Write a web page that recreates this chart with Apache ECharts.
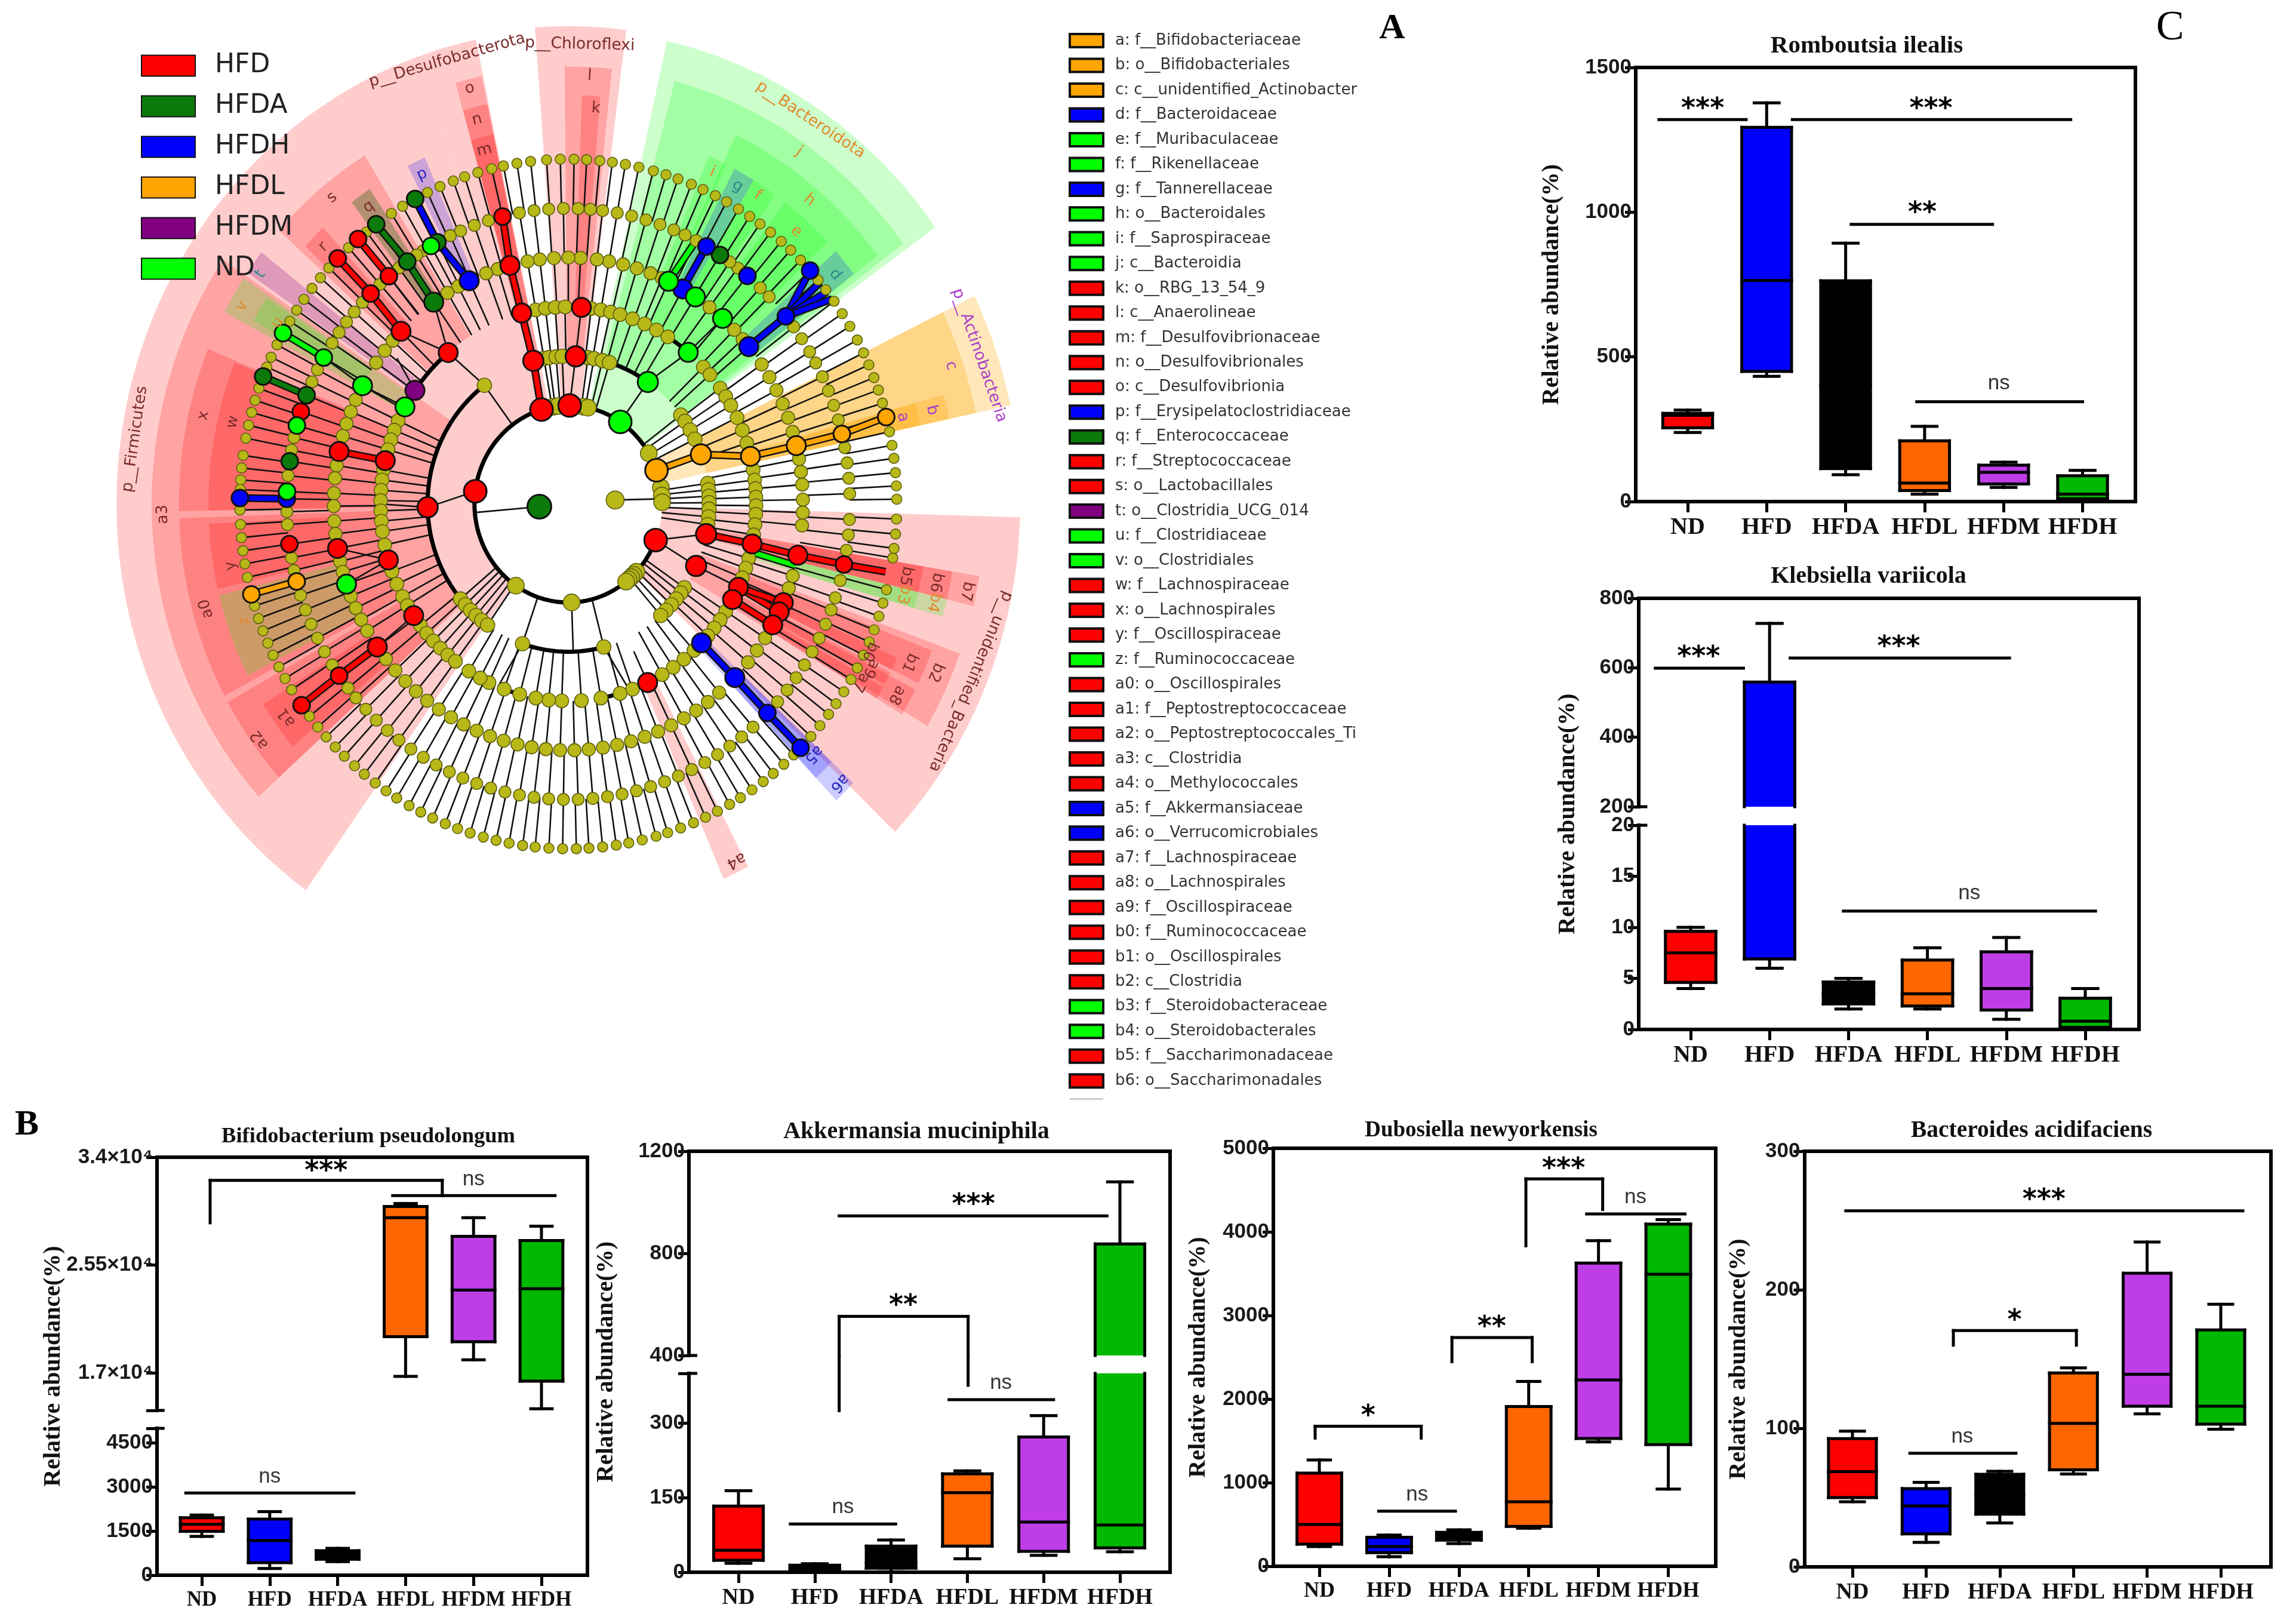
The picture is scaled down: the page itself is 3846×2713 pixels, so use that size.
<!DOCTYPE html>
<html><head><meta charset="utf-8">
<style>html,body{margin:0;padding:0;background:#fff}#c{width:3846px;height:2713px}</style>
<script src="https://cdn.jsdelivr.net/npm/echarts@6/dist/echarts.min.js"></script>
</head><body><div id="c"></div>
<script>
// ---------- DATA: groups and box statistics [low, q1, median, q3, high] ----------
const groups = ['ND','HFD','HFDA','HFDL','HFDM','HFDH'];
const romboutsiaStats = [[239,255,298,305,316],[433,450,764,1293,1378],[93,114,400,763,893],[26,38,64,210,260],[49,61,101,126,136],[5,10,26,89,108]];
const klebsiellaStats = [[4,4.6,7.5,9.6,10],[6,6.9,100,559,728],[2,2.5,3.5,4.65,5],[2,2.3,3.5,6.8,8],[1,1.9,4,7.6,9],[0,0.2,0.8,3.05,4]];
const bifidoStats = [[1319,1492,1735,1955,2048],[231,428,1180,1909,2164],[463,544,680,833,914],[16733,19865,29235,30118,30360],[18045,19464,23533,27762,29235],[14190,16358,23640,27441,28566]];
const akkermansiaStats = [[18,24,44,133,164],[1,5,10,14,17],[1,8,18,52.5,65],[27,52.5,160,198,204],[34,42,101,272,315],[41,49,95,837,1080]];
const dubosiellaStats = [[236,264,500,1114,1272],[114,163,236,346,374],[272,313,366,406,435],[455,476,772,1911,2211],[1488,1528,2228,3626,3894],[923,1455,3492,4093,4146]];
const bacteroidesStats = [[47,50,68.7,92.6,98],[17.7,23.8,44,56.5,61],[31.7,38,52,66.8,69],[67,70,103.6,140,143.6],[110.5,116,139,212,234.5],[99.4,103,116,171,189.5]];
// significance segments [x1,y1,x2,y2], labels [x,y,text]
const romboutsiaBars = [[-0.364,1320,0.74,1320],[1.325,1320,4.85,1320],[2.07,958,3.86,958],[2.9,345,5,345]];
const romboutsiaMarks = [[0.19,1371,'***'],[3.08,1371,'***'],[2.97,1014,'**'],[3.94,408,'ns']];
const klebsiellaUpperBars = [[-0.448,599,0.669,599],[1.26,628,4.04,628]];
const klebsiellaUpperMarks = [[0.1,644,'***'],[2.636,673,'***']];
const klebsiellaLowerBars = [[1.935,11.6,5.13,11.6]];
const klebsiellaLowerMarks = [[3.53,13.3,'ns']];
const bifidoUpperBars = [[0.123,28833,0.123,32180],[0.123,32180,3.54,32180],[3.54,32180,3.54,30975],[2.81,30975,5.2,30975]];
const bifidoUpperMarks = [[1.83,33250,'***'],[4,32260,'ns']];
const bifidoLowerBars = [[-0.235,2800,2.24,2800]];
const bifidoLowerMarks = [[1,3344,'ns']];
const akkermansiaUpperBars = [[1.32,947,4.83,947],[1.32,400,1.32,553],[1.32,553,3.01,553],[3.01,553,3.01,400]];
const akkermansiaUpperMarks = [[3.08,1007,'***'],[2.16,613,'**']];
const akkermansiaLowerBars = [[1.32,436,1.32,325],[3.01,436,3.01,376],[2.76,347,4.13,347],[0.68,97,2.06,97]];
const akkermansiaLowerMarks = [[3.44,380,'ns'],[1.37,130,'ns']];
const dubosiellaBars = [[-0.06,1533,-0.06,1675],[-0.06,1675,1.46,1675],[1.46,1675,1.46,1533],[0.85,659,1.95,659],[1.9,2447,1.9,2736],[1.9,2736,3.05,2736],[3.05,2736,3.05,2447],[2.96,3833,2.96,4634],[2.96,4634,4.06,4634],[4.06,4634,4.06,4268],[3.83,4215,5.24,4215]];
const dubosiellaMarks = [[0.7,1850,'*'],[1.4,854,'ns'],[2.47,2915,'**'],[3.5,4805,'***'],[4.53,4411,'ns']];
const bacteroidesBars = [[-0.09,257,5.3,257],[1.37,160,1.37,170.6],[1.37,170.6,3.04,170.6],[3.04,170.6,3.04,160],[0.78,82,2.22,82]];
const bacteroidesMarks = [[2.6,268,'***'],[2.2,181,'*'],[1.49,93.8,'ns']];
const romboutsiaTicks = [0,500,1000,1500];
const klebsiellaUpperTicks = [200,400,600,800];
const klebsiellaLowerTicks = [0,5,10,15,20];
const bifidoUpperTicks = [14055,17000,25500,34000];
const bifidoUpperLabels = ['','1.7×10⁴','2.55×10⁴','3.4×10⁴'];
const bifidoLowerTicks = [0,1500,3000,4500,5000];
const bifidoLowerLabels = ['0','1500','3000','4500',''];
const akkermansiaUpperTicks = [400,800,1200];
const akkermansiaLowerTicks = [0,150,300,400];
const akkermansiaLowerLabels = ['0','150','300',''];
const dubosiellaTicks = [0,1000,2000,3000,4000,5000];
const bacteroidesTicks = [0,100,200,300];

// ---------- DATA: cladogram; angle in degrees, ring number ----------
const ring7 = [0.8,3,5.2,7.6,9.8,12.1,17,19.3,21.5,23.8,26,28.4,31,33.5,36,38.4,40.5,45,47.4,49.6,52,54.3,56.5,58.8,61.2,63.4,65.8,68,70.5,72.7,75,77.6,80,82.3,84.5,86.8,89,91.4,93.8,96.6,99,101.4,103.5,106,108.4,110.5,113,115.4,120.3,122.6,127.9,132,136.8,139,141.3,143.6,145.8,148,152.5,154.8,156.6,160.4,162.5,164.6,166.8,169,171.9,174,176,177.6,181,183.4,185.6,187.8,190,192.3,197.2,199.4,201.6,203.8,206,208.2,210.4,212.6,218,220.3,222.5,224.8,227,229.4,231.6,234,236.3,238.5,241,243.3,245.6,248,250.3,252.6,255,257.3,259.6,262,264.2,266.6,269,271.4,273.6,276,278.4,280.6,283,285.5,287.6,290,292.4,294.7,297,299.4,301.6,304,306.4,308.6,311,313.3,317.6,320,322.4,324.6,327,329.4,331.6,334,336.4,338.6,341,343.3,345.6,351,352.6,355,357.5];
const ring6 = [2,5,8,11,16.5,19.5,22.5,25.5,28.5,31,34,36.8,44.5,47,53,55,63,65.5,68,71,74,77,80,83,85.5,88,91,94,97,100,106.5,109.5,112.5,114.8,121,122.6,127,132,137,139.5,142,144.5,147,153,155.6,167,169.5,174.5,181.5,184,190.5,193,198,201,204,207,210,213,218.5,221,224,227,230,233,236,239,242,245,248,251,254,257,260,263,266,269,272,275,278,281,284,287,290,293,296,299,302,305,308,311,318,321,324,327,330,333,336,339,341.5,345,351,354,357];
const ring5 = [1,4.5,7.5,10.5,17,20.5,24,27.5,31,34.5,42,45,53,66.5,69.5,73,76.5,80,83,87,90,93.5,97,100,107.5,110.5,118,121,138.5,141.5,145,155,158,161,164,171,174,177.5,180.5,184,187,193.5,196,202,205,208,211,219,222.5,226,229.5,233,236.5,240,243.5,247,250.5,254,257.5,261,264.5,268,271.5,275,278.5,282,285.5,289,292.5,296,299.5,303,306.5,310,320,323.5,327,330.5,334,337,340,343,355,358];
const ring4 = [100,97,94,91,83,80,77,74,70,66,62,58,44,41,36,33,30,26,22,18,10,7,4.5,2,-0.5,-3,-6,-9,-16,-19,-22,-33,-36,-39,-42,-48,-52,-56,-60,-70,-74,-80,-86,-92,-96,-100,-105,-110,-115,-118,-122,155,158,161,164,170,173,176,179,182,185,188,192,200,204,208,211,218,221,224,227,230,233];
const ring3 = [100,98,95,92.5,82,79.5,76,73,37,34,30,26,8,5.5,3,0.5,-2,-5,-8,-34.5,-37,-40,-43,-46,-49,220,223,226,229,232,235,251,-75.4,126.6];
const ring2 = [99.5,96.4,80.5,78,31,9.6,4.9,1,-43.5,-46,-48,-50,-52,-88,236];
const ring1 = [4.6];
const ringOrder = [ring1,ring2,ring3,ring4,ring5,ring6,ring7];
// coloured nodes [angle, ring]
const hfdNodes = [[106.6,2],[89.2,2],[-21.5,2],[172.6,2],[104.4,3],[87,3],[-24.8,3],[181.3,3],[-11.8,3],[104.4,4],[86,4],[-25,4],[-29,4],[129.8,4],[196.5,4],[167.3,4],[214.5,4],[-65,4],[-11.7,4],[135.5,5],[167.7,5],[190.4,5],[215.5,5],[104.4,5],[-12,5],[-23.6,5],[-26,5],[-29.4,5],[103.5,6],[-11.8,6],[215.5,6],[187.8,6],[161.8,6],[134.6,6],[129.6,6],[215.7,7],[134.6,7],[129.8,7]];
const hfdaNodes = [[185,0.62],[125,5],[171.7,6],[158.4,6],[124.9,6],[57.4,6],[117.7,6],[158.3,7],[125.8,7],[117.8,7]];
const hfdhNodes = [[39.7,5],[115,5],[60.8,5],[39.4,6],[60.6,6],[50.5,6],[179,6],[-44.8,4],[-44.8,5],[-45,6],[-45,7],[42.6,7],[179,7]];
const hfdlNodes = [[20,2],[19.6,3],[14,4],[13.7,5],[13.7,6],[14.6,7],[195.2,6],[195.2,7]];
const hfdmNodes = [[144.8,4]];
const ndNodes = [[56.4,2],[55.6,3],[50.3,4],[150.5,4],[48.9,5],[57.2,5],[64.7,5],[199,5],[151.3,5],[150.3,6],[177.6,6],[164.6,6],[119.2,6],[150.3,7]];
// coloured thick links [a1,ring1,a2,ring2]
const hfdLinks = [[106.6,2,104.4,3],[104.4,3,104.4,4],[104.4,4,104.4,5],[104.4,5,103.5,6],[167.3,4,167.7,5],[135.5,5,134.6,6],[134.6,6,134.6,7],[129.6,6,129.8,7],[215.5,5,215.5,6],[215.5,6,215.7,7],[-11.8,3,-11.7,4],[-11.7,4,-12,5],[-12,5,-11.8,6],[-11.8,6,-11.5,6.9],[-25,4,-26,5],[-29,4,-29.4,5],[-25,4,-23.6,5]];
const hfdaLinks = [[125,5,124.9,6],[124.9,6,125.8,7],[158.4,6,158.3,7],[117.7,6,117.8,7]];
const hfdhLinks = [[-44.8,4,-44.8,5],[-44.8,5,-45,6],[-45,6,-45,7],[39.7,5,39.4,6],[39.4,6,42.6,7],[39.4,6,40,7],[39.4,6,38,7],[39.4,6,36.5,7],[60.8,5,60.6,6],[115,5,117.7,6],[117.7,6,117.8,7],[179,6,179,7]];
const hfdlLinks = [[20,2,19.6,3],[19.6,3,14,4],[14,4,13.7,5],[13.7,5,13.7,6],[13.7,6,14.6,7],[195.2,6,195.2,7]];
const ndLinks = [[150.3,6,150.3,7],[64.7,5,63,6],[-14,4,-14.5,5]];
// thin parent links [a1,ring1,a2,ring2]
const thinLinks = [[185,0.62,185,2],[4.6,1,3,2],[172.6,2,181.3,3],[181.3,3,180,4],[56.4,2,55.6,3],[55.6,3,50.3,4],[50.3,4,48.9,5],[-21.5,2,-24.8,3],[-24.8,3,-25,4],[-21.5,2,-11.8,3],[126.6,3,129.8,4],[129.8,4,135.5,5],[129.8,4,125,5],[-88,2,-88,3],[251,3,248,4],[-75.4,3,-71,4],[89.2,2,87,3],[87,3,86,4],[129.8,5,129.6,6],[167.3,4,172,3.9],[150.5,4,151.3,5],[151.3,5,150.3,6],[144.8,4,141,4.7],[196.5,4,190.4,5],[196.5,4,199,5],[214.5,4,215.5,5],[-65,4,-65,3.3]];
// thick black ring arcs [ring, fromAngle, toAngle]
const blackArcs = [[2,30,338.5],[3,126.6,233],[3,251,284.6],[3,57,78],[4,50,72],[4,130,215],[5,190,205],[4,278,284],[4,250,257]];
// shaded clades [a1,a2,r0,r1,key]
const cladeWedges = [[109.7,234.5,2,9.63,'r'],[101.8,109.7,2,9.63,'r'],[82.7,94.2,2,9.7,'r'],[35.7,77.4,2,9.63,'g'],[12,26,2,9.63,'o'],[-43.7,-1.6,2,9.63,'r'],
[146,222,3,8.88,'r'],[121.5,138,4,8.3,'r'],[133,137,5,7.67,'r'],[123.5,127,5,7.67,'d'],[113.5,116.5,5,7.67,'b'],
[102,105.7,3,8.88,'r'],[102,105.7,4,8.3,'r'],[102,105.7,5,7.67,'r'],[84,90.5,3,8.88,'r'],[85.3,88,4,8.3,'r'],
[36.5,75.2,3,8.88,'g'],[37.4,64.5,4,8.3,'g'],[64,67,5,7.67,'g'],[59,62.5,5,7.67,'b'],[55,59,5,7.67,'g'],[44,53,5,7.67,'g'],[37.5,42,5,7.67,'b'],
[12,26,3,8.88,'o'],[12,15.5,4,8.3,'o'],[12,15.5,5,7.67,'o'],
[-30.5,-20,3,8.88,'r'],[-26,-21,4,8.3,'r'],[-31,-27,4,8.3,'r'],[-26,-24,5,7.67,'r'],[-28.5,-26.5,5,7.67,'r'],[-31,-29,5,7.67,'r'],
[-13.5,-9.5,3,8.88,'r'],[-13.5,-9.5,4,8.3,'r'],[-13.5,-9.5,5,7.67,'r'],[-16,-13.5,4,8.3,'g'],[-16,-13.5,5,7.67,'g'],
[-46.5,-43,4,8.3,'b'],[-46.5,-43,5,7.67,'b'],[-66.5,-62.5,4,8.3,'r'],
[157.7,181,4,8.3,'r'],[158,181,5,7.67,'r'],[182,208,4,8.3,'r'],[183,193,5,7.67,'r'],[194,207,5,7.67,'g'],[209,222,4,8.3,'r'],[212,220,5,7.67,'r'],[146.5,152,4,8.3,'g'],[147,151,5,7.67,'g'],[142,145.5,4,8.3,'p']];
// clade letters and phylum names
const cladeLabelText = ['x','w','a3','p__Firmicutes','y','a0','z','a1','a2','v','u','t','s','r','q','p','o','n','m','l','k','i','g','f','e','d','j','h','a','b','c','b2','b1','a8','b0','a9','a7','b5','b6','b7','b3','b4','a5','a6','a4','p__Desulfobacterota','p__Chloroflexi','p__Bacteroidota','p__Actinobacteria','p__unidentified_Bacteria'];
const cladeLabelAngle = [167,166.9,181.4,171.9,189.9,195.4,199,215.8,216,150,149.3,144.6,129,135,125.2,115,104,104,104,87,85.8,65.5,60.8,57.2,48.7,39.3,55.5,50.2,13.9,13.8,19,-23.6,-23.9,-29,-25,-27.4,-30.2,-11.5,-11.5,-11.8,-14.4,-14.4,-44.2,-44.4,-63.7,106,88.5,56.5,19,-22.8];
const cladeLabelRing = [7.98,7.34,8.64,9.33,7.3,8,7.3,7.4,8.13,8.03,7.2,8.05,8,7.38,7.38,7.38,8.69,8.04,7.4,8.7,8.05,7.4,7.39,7.45,7.36,7.35,8.68,8.03,7.34,7.98,8.62,8.54,7.95,8,7.09,7.26,7.2,7.34,8,8.67,7.38,8.04,7.29,8.09,8.07,9.37,9.33,9.35,9.26,9.3];
const cladeLabelTone = ['k','k','k','k','k','k','o','k','k','o','o','t','k','k','k','b','k','k','k','k','k','o','t','o','o','t','o','o','m','m','m','k','k','k','k','k','k','k','k','k','o','o','b','b','k','k','k','o','m','k'];
// clade key list
const cladeKeys = ['a: f__Bifidobacteriaceae','b: o__Bifidobacteriales','c: c__unidentified_Actinobacter','d: f__Bacteroidaceae','e: f__Muribaculaceae','f: f__Rikenellaceae','g: f__Tannerellaceae','h: o__Bacteroidales','i: f__Saprospiraceae','j: c__Bacteroidia','k: o__RBG_13_54_9','l: c__Anaerolineae','m: f__Desulfovibrionaceae','n: o__Desulfovibrionales','o: c__Desulfovibrionia','p: f__Erysipelatoclostridiaceae','q: f__Enterococcaceae','r: f__Streptococcaceae','s: o__Lactobacillales','t: o__Clostridia_UCG_014','u: f__Clostridiaceae','v: o__Clostridiales','w: f__Lachnospiraceae','x: o__Lachnospirales','y: f__Oscillospiraceae','z: f__Ruminococcaceae','a0: o__Oscillospirales','a1: f__Peptostreptococcaceae','a2: o__Peptostreptococcales_Ti','a3: c__Clostridia','a4: o__Methylococcales','a5: f__Akkermansiaceae','a6: o__Verrucomicrobiales','a7: f__Lachnospiraceae','a8: o__Lachnospirales','a9: f__Oscillospiraceae','b0: f__Ruminococcaceae','b1: o__Oscillospirales','b2: c__Clostridia','b3: f__Steroidobacteraceae','b4: o__Steroidobacterales','b5: f__Saccharimonadaceae','b6: o__Saccharimonadales'];
const cladeKeyGroup = ['HFDL','HFDL','HFDL','HFDH','ND','ND','HFDH','ND','ND','ND','HFD','HFD','HFD','HFD','HFD','HFDH','HFDA','HFD','HFD','HFDM','ND','ND','HFD','HFD','HFD','ND','HFD','HFD','HFD','HFD','HFD','HFDH','HFDH','HFD','HFD','HFD','HFD','HFD','HFD','ND','ND','HFD','HFD'];

// ---------- STYLE + LAYOUT ----------
const SERIF='Liberation Serif', SANS='Liberation Sans', DEJA='DejaVu Sans';
const boxColors = {ND:'#ff0000',HFD:'#0000ff',HFDA:'#000000',HFDL:'#ff6600',HFDM:'#bf3de6',HFDH:'#00b800'};
const groupColors = {HFD:'#ff0000',HFDA:'#0b7a0b',HFDH:'#0000ff',HFDL:'#ffa500',HFDM:'#800080',ND:'#00ff00'};
const wedgeFill = {r:'rgba(255,0,0,0.2)',g:'rgba(0,255,0,0.2)',o:'rgba(255,165,0,0.27)',b:'rgba(0,0,255,0.2)',d:'rgba(0,100,0,0.3)',p:'rgba(128,0,128,0.25)'};
const labelTone = {k:'#7a2b2b',o:'#e08a2e',b:'#2a2ac0',m:'#a83cc8',t:'#2a8a8a'};
const sizeBg = {1:30,2:28,3:24,4:23,5:22,6:20,7:17};
const sizeFg = {0.62:40,2:38,3:34,4:32,5:32,6:28,7:28};
const toXY=(a,r)=>[r*Math.cos(a*Math.PI/180),r*Math.sin(a*Math.PI/180)];
const grids=[],xAxes=[],yAxes=[],series=[],titles=[],graphics=[];
const axisLS={color:'#000',width:6,cap:'square'};

// cladogram canvas
grids.push({left:952-10.5*78.6,width:21*78.6,top:844-10.2*82.5,height:20.4*82.5});
xAxes.push({gridIndex:0,type:'value',min:-10.5,max:10.5,show:false});
yAxes.push({gridIndex:0,type:'value',min:-10.2,max:10.2,show:false});
const cladeBase={type:'custom',coordinateSystem:'cartesian2d',xAxisIndex:0,yAxisIndex:0,silent:true,animation:false};
function sectorPoints(api,a1,a2,r0,r1){
  const pts=[],n=Math.max(2,Math.ceil(Math.abs(a2-a1)/2));
  for(let i=0;i<=n;i++)pts.push(api.coord(toXY(a1+(a2-a1)*i/n,r1)));
  for(let i=n;i>=0;i--)pts.push(api.coord(toXY(a1+(a2-a1)*i/n,r0)));
  return pts;
}
series.push({...cladeBase,z:1,name:'clades',data:cladeWedges.map(w=>w.slice(0,4)),renderItem:(p,api)=>{
  const w=cladeWedges[p.dataIndex];
  return {type:'polygon',shape:{points:sectorPoints(api,w[0],w[1],w[2],w[3])},style:{fill:wedgeFill[w[4]]}};
}});
const radialLines=[];
ringOrder.forEach((ring,i)=>{const lvl=i+1;if(lvl>=3)ring.forEach(a=>radialLines.push([a,lvl-1,a,lvl]));});
[hfdNodes,hfdaNodes,hfdhNodes,hfdlNodes,ndNodes].forEach(g=>g.forEach(n=>{if(n[1]>=5)radialLines.push([n[0],n[1]-1,n[0],n[1]]);}));
const allThin=radialLines.concat(thinLinks);
series.push({...cladeBase,z:2,name:'links',data:allThin,renderItem:(p,api)=>{
  const l=allThin[p.dataIndex],a=api.coord(toXY(l[0],l[1])),b=api.coord(toXY(l[2],l[3]));
  return {type:'line',shape:{x1:a[0],y1:a[1],x2:b[0],y2:b[1]},style:{stroke:'#111',lineWidth:2.6}};
}});
series.push({...cladeBase,z:2,name:'arcs',data:blackArcs,renderItem:(p,api)=>{
  const l=blackArcs[p.dataIndex],pts=[],n=Math.ceil((l[2]-l[1])/2);
  for(let i=0;i<=n;i++)pts.push(api.coord(toXY(l[1]+(l[2]-l[1])*i/n,l[0])));
  return {type:'polyline',shape:{points:pts},style:{stroke:'#000',lineWidth:7,fill:null}};
}});
const thickSets=[[hfdLinks,'HFD'],[hfdaLinks,'HFDA'],[hfdhLinks,'HFDH'],[hfdlLinks,'HFDL'],[ndLinks,'ND']];
thickSets.forEach(([links,g])=>{
  series.push({...cladeBase,z:3,name:g+' links',data:links,renderItem:(p,api)=>{
    const l=links[p.dataIndex],a=api.coord(toXY(l[0],l[1])),b=api.coord(toXY(l[2],l[3]));
    return {type:'group',children:[
      {type:'line',shape:{x1:a[0],y1:a[1],x2:b[0],y2:b[1]},style:{stroke:'#111',lineWidth:13}},
      {type:'line',shape:{x1:a[0],y1:a[1],x2:b[0],y2:b[1]},style:{stroke:groupColors[g],lineWidth:8}}]};
  }});
});
const bgNodes=[];ringOrder.forEach((ring,i)=>ring.forEach(a=>bgNodes.push([...toXY(a,i+1),i+1])));
series.push({type:'scatter',name:'not significant',xAxisIndex:0,yAxisIndex:0,z:4,silent:true,animation:false,data:bgNodes,
  symbolSize:v=>sizeBg[v[2]],itemStyle:{color:'#b8b818',borderColor:'#5f5f10',borderWidth:1.6,opacity:1}});
[['HFD',hfdNodes],['HFDA',hfdaNodes],['HFDH',hfdhNodes],['HFDL',hfdlNodes],['HFDM',hfdmNodes],['ND',ndNodes]].forEach(([g,nodes])=>{
  series.push({type:'scatter',name:g,xAxisIndex:0,yAxisIndex:0,z:5,silent:true,animation:false,
    data:nodes.map(n=>[...toXY(n[0],n[1]),n[1]]),symbolSize:v=>sizeFg[v[2]],
    itemStyle:{color:groupColors[g],borderColor:'#111',borderWidth:3,opacity:1}});
});
series.push({...cladeBase,z:6,name:'clade labels',data:cladeLabelAngle.map((a,i)=>[a,cladeLabelRing[i]]),renderItem:(p,api)=>{
  const i=p.dataIndex,a=cladeLabelAngle[i],pt=api.coord(toXY(a,cladeLabelRing[i])),t=cladeLabelText[i];
  return {type:'text',x:pt[0],y:pt[1],rotation:(a-90)*Math.PI/180,
    style:{text:t,fill:labelTone[cladeLabelTone[i]],font:(t.length>2?'26.5px ':'26px ')+DEJA,textAlign:'center',textVerticalAlign:'middle'}};
}});

// box panels
function addPanel(p){
  const xMin=(p.left-p.tick0)/p.unit,xMax=(p.right-p.tick0)/p.unit;
  const gF=grids.length;
  grids.push({left:p.left,top:p.top,width:p.right-p.left,height:p.bottom-p.top});
  xAxes.push({gridIndex:gF,type:'value',position:'top',min:0,max:1,axisLine:{show:true,onZero:false,lineStyle:axisLS},axisTick:{show:false},axisLabel:{show:false},splitLine:{show:false}});
  yAxes.push({gridIndex:gF,type:'value',position:'right',min:0,max:1,axisLine:{show:true,onZero:false,lineStyle:axisLS},axisTick:{show:false},axisLabel:{show:false},splitLine:{show:false}});
  yAxes.push({gridIndex:gF,type:'value',position:'left',min:0,max:1,axisLine:{show:false,onZero:false},axisTick:{show:false},axisLabel:{show:false},splitLine:{show:false},
    name:'Relative abundance(%)',nameLocation:'middle',nameGap:p.left-p.labelX-21,nameTextStyle:{fontFamily:SERIF,fontWeight:'bold',fontSize:40,color:'#111'}});
  titles.push({text:p.title,left:p.titleX,top:p.titleY,textAlign:'center',textVerticalAlign:'middle',textStyle:{fontFamily:SERIF,fontWeight:'bold',fontSize:p.titleSize,color:'#111'}});
  p.parts.forEach(part=>{
    const g=grids.length;
    grids.push({left:p.left,top:part.top,width:p.right-p.left,height:part.bottom-part.top});
    const xi=xAxes.length,yi=yAxes.length;
    xAxes.push({gridIndex:g,type:'value',position:'bottom',min:xMin,max:xMax,show:!!part.showX,
      axisLine:{show:true,onZero:false,lineStyle:axisLS},
      axisTick:{show:true,length:18,lineStyle:{color:'#000',width:5},customValues:[0,1,2,3,4,5]},
      axisLabel:{show:true,margin:24,hideOverlap:false,customValues:[0,1,2,3,4,5],formatter:v=>groups[Math.round(v)],fontFamily:SERIF,fontWeight:'bold',fontSize:p.xSize,color:'#111'},
      splitLine:{show:false}});
    const labels=part.labels||part.ticks.map(String);
    yAxes.push({gridIndex:g,type:'value',position:'left',min:part.min,max:part.max,
      axisLine:{show:true,onZero:false,lineStyle:axisLS},
      axisTick:{show:true,length:18,lineStyle:{color:'#000',width:5},customValues:part.ticks},
      axisLabel:{show:true,margin:7,hideOverlap:false,customValues:part.ticks,formatter:v=>labels[part.ticks.indexOf(v)],fontFamily:SANS,fontWeight:'bold',fontSize:35,color:'#1a1a1a',showMinLabel:true,showMaxLabel:true},
      splitLine:{show:false}});
    const cl=v=>Math.min(Math.max(v,part.min),part.max);
    const stats=p.stats;
    series.push({type:'custom',name:p.title+' boxes',coordinateSystem:'cartesian2d',xAxisIndex:xi,yAxisIndex:yi,silent:true,animation:false,z:3,
      data:stats.map((s,i)=>[i,...s]),
      renderItem:(pp,api)=>{
        const x=api.value(0),[lo,q1,md,q3,hi]=[1,2,3,4,5].map(k=>api.value(k));
        const col=boxColors[groups[x]],hw=api.size([p.boxFrac/2,0])[0],cx=api.coord([x,0])[0];
        const Y=v=>api.coord([x,v])[1],kids=[],ls={stroke:'#000',lineWidth:5,lineCap:'square'};
        const line=(x1,y1,x2,y2,lw)=>kids.push({type:'line',shape:{x1,y1,x2,y2},style:{...ls,lineWidth:lw||5}});
        if(cl(q1)!==cl(hi)&&cl(q3)!==cl(hi)){line(cx,Y(cl(q3)),cx,Y(cl(hi)));}
        if(hi>=part.min&&hi<=part.max)line(cx-hw/2,Y(hi),cx+hw/2,Y(hi));
        if(cl(lo)!==cl(q1)){line(cx,Y(cl(q1)),cx,Y(cl(lo)));}
        if(lo>=part.min&&lo<=part.max)line(cx-hw/2,Y(lo),cx+hw/2,Y(lo));
        if(cl(q1)!==cl(q3)){
          const yT=Y(cl(q3)),yB=Y(cl(q1));
          kids.push({type:'rect',shape:{x:cx-hw,y:yT,width:2*hw,height:yB-yT},style:{fill:col}});
          line(cx-hw,yT,cx-hw,yB);line(cx+hw,yT,cx+hw,yB);
          if(q3<=part.max)line(cx-hw,yT,cx+hw,yT);
          if(q1>=part.min)line(cx-hw,yB,cx+hw,yB);
          if(md>=part.min&&md<=part.max)line(cx-hw,Y(md),cx+hw,Y(md));
        }
        return {type:'group',children:kids};
      }});
    const segs=(part.bars||[]).slice();
    if(part.stub!==undefined)segs.push([xMin,part.stub,xMin+0.09,part.stub]);
    if(segs.length)series.push({type:'custom',name:p.title+' bars',coordinateSystem:'cartesian2d',xAxisIndex:xi,yAxisIndex:yi,silent:true,animation:false,z:4,data:segs,
      renderItem:(pp,api)=>{const s=segs[pp.dataIndex],a=api.coord([s[0],s[1]]),b=api.coord([s[2],s[3]]);
        return {type:'line',shape:{x1:a[0],y1:a[1],x2:b[0],y2:b[1]},style:{stroke:'#000',lineWidth:5,lineCap:'square'}};}});
    const marks=part.marks||[];
    if(marks.length)series.push({type:'custom',name:p.title+' marks',coordinateSystem:'cartesian2d',xAxisIndex:xi,yAxisIndex:yi,silent:true,animation:false,z:4,data:marks.map(m=>[m[0],m[1]]),
      renderItem:(pp,api)=>{const m=marks[pp.dataIndex],a=api.coord([m[0],m[1]]),isNs=m[2]==='ns';
        return {type:'text',x:a[0],y:a[1]+(isNs?0:9),style:{text:m[2],fill:isNs?'#333':'#000',font:isNs?('35px '+SANS):('bold 46px '+DEJA),textAlign:'center',textVerticalAlign:'middle'}};}});
  });
}
addPanel({title:'Romboutsia ilealis',titleSize:41,xSize:40,titleX:3122,titleY:72,labelX:2599,left:2740,right:3577,top:113,bottom:840,tick0:2827,unit:132.3,boxFrac:0.63,stats:romboutsiaStats,
  parts:[{top:113,bottom:840,min:0,max:1500,ticks:romboutsiaTicks,showX:true,bars:romboutsiaBars,marks:romboutsiaMarks}]});
addPanel({title:'Klebsiella variicola',titleSize:40,xSize:40,titleX:3125,titleY:961,labelX:2626,left:2745,right:3583,top:1002,bottom:1724,tick0:2832,unit:132.2,boxFrac:0.64,stats:klebsiellaStats,
  parts:[{top:1002,bottom:1351,min:200,max:800,ticks:klebsiellaUpperTicks,bars:klebsiellaUpperBars,marks:klebsiellaUpperMarks,stub:200},
         {top:1382,bottom:1724,min:0,max:20,ticks:klebsiellaLowerTicks,showX:true,bars:klebsiellaLowerBars,marks:klebsiellaLowerMarks,stub:20}]});
addPanel({title:'Bifidobacterium pseudolongum',titleSize:36.5,xSize:35,titleX:612,titleY:1899,labelX:89,left:263,right:984,top:1938,bottom:2638,tick0:338,unit:113.8,boxFrac:0.63,stats:bifidoStats,
  parts:[{top:1938,bottom:2362,min:14055,max:34000,ticks:bifidoUpperTicks,labels:bifidoUpperLabels,bars:bifidoUpperBars,marks:bifidoUpperMarks,stub:14055},
         {top:2392,bottom:2638,min:0,max:5000,ticks:bifidoLowerTicks,labels:bifidoLowerLabels,showX:true,bars:bifidoLowerBars,marks:bifidoLowerMarks,stub:5000}]});
addPanel({title:'Akkermansia muciniphila',titleSize:40,xSize:38,titleX:1530,titleY:1891,labelX:1015,left:1154,right:1960,top:1928,bottom:2633,tick0:1237,unit:127.8,boxFrac:0.65,stats:akkermansiaStats,
  parts:[{top:1928,bottom:2270,min:400,max:1200,ticks:akkermansiaUpperTicks,bars:akkermansiaUpperBars,marks:akkermansiaUpperMarks,stub:400},
         {top:2300,bottom:2633,min:0,max:400,ticks:akkermansiaLowerTicks,labels:akkermansiaLowerLabels,showX:true,bars:akkermansiaLowerBars,marks:akkermansiaLowerMarks,stub:400}]});
addPanel({title:'Dubosiella newyorkensis',titleSize:37,xSize:36,titleX:2476,titleY:1888,labelX:2007,left:2133,right:2874,top:1923,bottom:2623,tick0:2210,unit:116.9,boxFrac:0.64,stats:dubosiellaStats,
  parts:[{top:1923,bottom:2623,min:0,max:5000,ticks:dubosiellaTicks,showX:true,bars:dubosiellaBars,marks:dubosiellaMarks}]});
addPanel({title:'Bacteroides acidifaciens',titleSize:39.5,xSize:38,titleX:3398,titleY:1889,labelX:2912,left:3022.5,right:3804,top:1928,bottom:2624,tick0:3103,unit:123.4,boxFrac:0.65,stats:bacteroidesStats,
  parts:[{top:1928,bottom:2624,min:0,max:300,ticks:bacteroidesTicks,showX:true,bars:bacteroidesBars,marks:bacteroidesMarks}]});

// right-hand clade key
cladeKeys.forEach((t,i)=>{
  const y=68+i*41.48;
  graphics.push({type:'rect',shape:{x:1792,y:y-11,width:56,height:22},style:{fill:groupColors[cladeKeyGroup[i]],stroke:'#111',lineWidth:4},silent:true});
  graphics.push({type:'text',x:1868,y:y,style:{text:t,fill:'#333',font:'26px '+DEJA,textAlign:'left',textVerticalAlign:'middle'},silent:true});
});
graphics.push({type:'rect',shape:{x:1792,y:1839,width:56,height:3},style:{fill:'#ccc'},silent:true});
[['A',2332,48,true,60],['B',45,1884,true,60],['C',3635,48,false,70]].forEach(([t,x,y,b,s])=>{
  graphics.push({type:'text',x,y,style:{text:t,fill:'#000',font:(b?'bold ':'')+s+'px '+SERIF,textAlign:'center',textVerticalAlign:'middle'},silent:true});
});

const chart=echarts.init(document.getElementById('c'),null,{renderer:'canvas',width:3846,height:2713});
chart.setOption({
  backgroundColor:'#fff',animation:false,
  title:titles,grid:grids,xAxis:xAxes,yAxis:yAxes,series,
  legend:{data:['HFD','HFDA','HFDH','HFDL','HFDM','ND'],orient:'vertical',left:231,top:83,itemWidth:90,itemHeight:35,itemGap:24,icon:'rect',selectedMode:false,
    textStyle:{fontFamily:DEJA,fontSize:44,color:'#222',padding:[0,0,0,28]}},
  graphic:{elements:graphics}
});
</script></body></html>
